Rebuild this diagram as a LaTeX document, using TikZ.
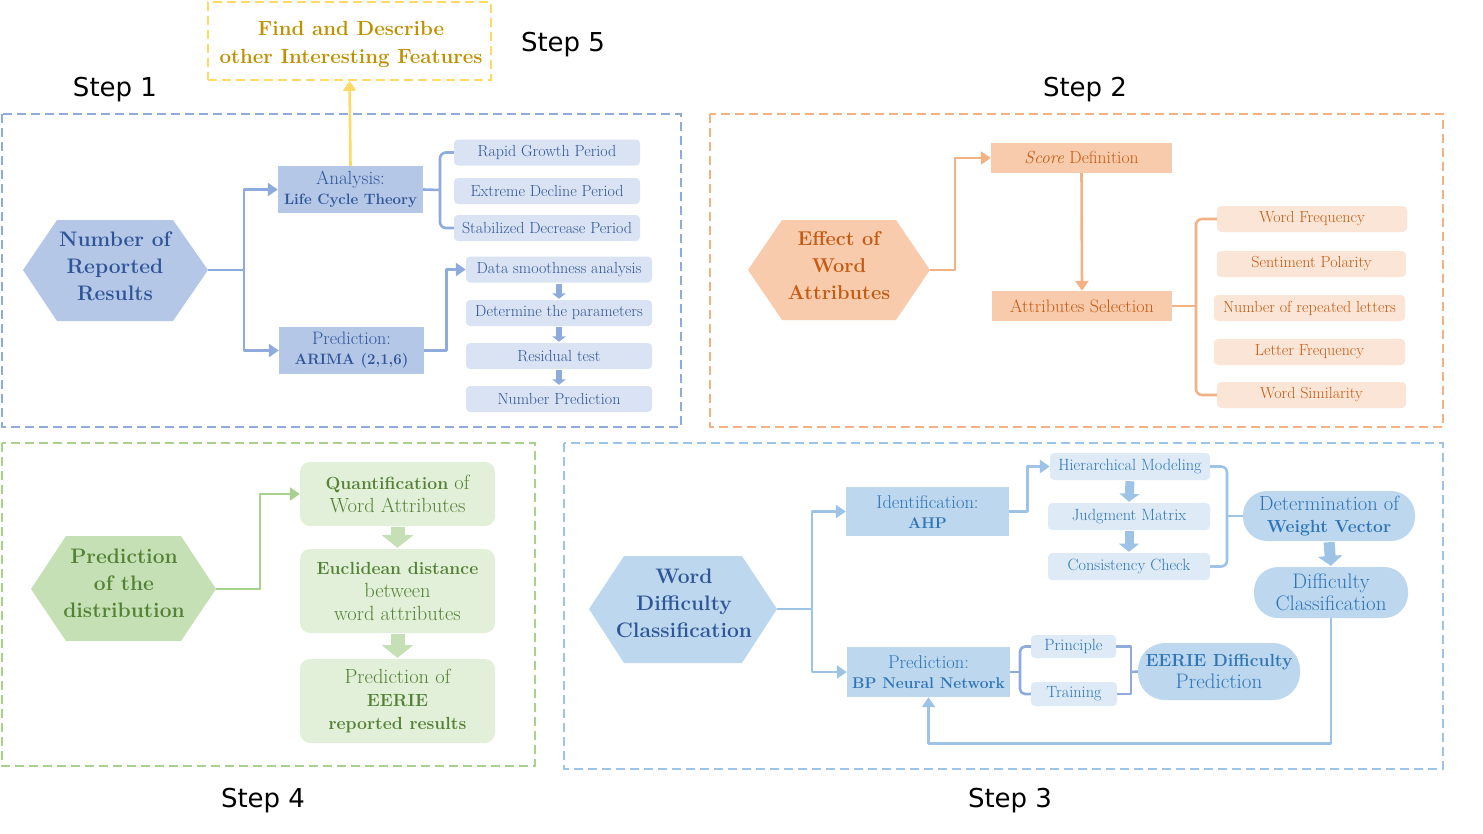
\documentclass[tikz,border=0pt]{standalone}
\usepackage{fontspec}
\newfontfamily\stepfont{DejaVu Sans}
\usetikzlibrary{arrows.meta,calc}
\definecolor{bAline}{HTML}{8FAADC}
\definecolor{bAfill}{HTML}{B4C7E7}
\definecolor{bAlight}{HTML}{DAE3F3}
\definecolor{bAtext}{HTML}{2F5597}
\definecolor{oline}{HTML}{F4B183}
\definecolor{ofill}{HTML}{F8CBAD}
\definecolor{olight}{HTML}{FBE5D6}
\definecolor{otext}{HTML}{C55A11}
\definecolor{gline}{HTML}{A9D18E}
\definecolor{gfill}{HTML}{C5E0B4}
\definecolor{glight}{HTML}{E2F0D9}
\definecolor{gtext}{HTML}{538135}
\definecolor{cline}{HTML}{9DC3E6}
\definecolor{cfill}{HTML}{BDD7EE}
\definecolor{clight}{HTML}{DEEBF7}
\definecolor{ctext}{HTML}{2E75B6}
\definecolor{yline}{HTML}{FFD966}
\definecolor{ytext}{HTML}{BF9000}
\newcommand{\fs}[2]{\fontsize{#1}{#2}\selectfont}
\begin{document}
\begin{tikzpicture}[x=1pt,y=-1pt,
  frame/.style={line width=1.6pt, dash pattern=on 9pt off 5pt},
  box/.style={inner sep=0pt, align=center},
  rbox/.style={box, rounded corners=4pt},
  steplabel/.style={font=\stepfont\fs{26}{30}, text=black},
  conn/.style={line width=2.6pt, line join=round},
  arr/.style={-{Triangle[width=13pt,length=10pt]}},
  fat/.style={line width=#1, -{Triangle[width=2.2*#1,length=0.9*#1]}, shorten <=1pt, shorten >=1pt},
]
\useasboundingbox (0,0) rectangle (1483,833);

%% ---------- Step labels
\node[steplabel] (st1) at (115,90) {Step 1};
\node[steplabel] (st2) at (1085,90) {Step 2};
\node[steplabel] (st3) at (1010,801) {Step 3};
\node[steplabel] (st4) at (263,801) {Step 4};
\node[steplabel] (st5) at (563,45) {Step 5};

%% ---------- Frames
\draw[frame, bAline] (2,114) rectangle (681,427);
\draw[frame, oline] (710,114) rectangle (1443,427);
\draw[frame, gline] (2,443) rectangle (535,766);
\draw[frame, cline] (564,443) rectangle (1443,769);

%% ---------- Step 5
\node[box, draw=yline, frame, minimum width=283pt, minimum height=78pt] (s5) at (349.5,41) {};
\node[box, text=ytext, font=\bfseries\fs{20.5}{28}] (s5t) at (351,44) {Find and Describe\\other Interesting Features};

%% ---------- Step 1
\fill[bAfill] (23,270) -- (57,220) -- (173,220) -- (208,270) -- (173,321) -- (57,321) -- cycle;
\node[box, text=bAtext, font=\bfseries\fs{21}{27}] (h1) at (115,266.5) {Number of\\Reported\\Results};
\coordinate (h1e) at (208,270);
\node[box, fill=bAfill, text=bAtext, minimum width=145pt, minimum height=47pt, font=\fs{15}{20}] (ana) at (350.5,189.5) {{\fs{19}{20}Analysis:}\\\textbf{Life Cycle Theory}};
\node[box, fill=bAfill, text=bAtext, minimum width=145pt, minimum height=47pt, font=\fs{15}{20}] (pr1) at (351.5,350.5) {{\fs{18}{20}Prediction:}\\\textbf{ARIMA (2,1,6)}};
\tikzset{sb1/.style={rbox, fill=bAlight, text=bAtext, minimum height=26pt, minimum width=186pt, font=\fs{16}{17}}}
\node[sb1] (rapid) at (547,152.5) {Rapid Growth Period};
\node[sb1] (ext) at (547,191) {Extreme Decline Period};
\node[sb1] (stab) at (547,228) {Stabilized Decrease Period};
\node[sb1] (data) at (559,269.5) {Data smoothness analysis};
\node[sb1] (det) at (559,313) {Determine the parameters};
\node[sb1] (res) at (559,356) {Residual test};
\node[sb1] (nump) at (559,399) {Number Prediction};

\coordinate (j1) at (244,270);
\draw[conn, bAline] (h1e) -- (j1);
\draw[conn, bAline, arr] (j1) |- (ana.west);
\draw[conn, bAline, arr] (j1) |- (pr1.west);
\draw[conn, bAline, arr] (pr1.east) -- ++(22,0) |- (data.west);
\coordinate (b1) at (440,190);
\draw[conn, bAline, rounded corners=6pt] (rapid.west) -| (b1) |- (stab.west);
\draw[conn, bAline] (ana.east) -- (b1);
\draw[fat=6pt, bAline] (data.south) -- (det.north);
\draw[fat=6pt, bAline] (det.south) -- (res.north);
\draw[fat=6pt, bAline] (res.south) -- (nump.north);
\draw[conn, yline, arr] (ana.north) -- (s5.south);

%% ---------- Step 2
\fill[ofill] (748,270) -- (782,220) -- (896,220) -- (930,270) -- (896,320) -- (782,320) -- cycle;
\node[box, text=otext, font=\bfseries\fs{20}{27}] (h2) at (839,266) {Effect of\\Word\\Attributes};
\coordinate (h2e) at (930,270);
\node[box, fill=ofill, text=otext, minimum width=181pt, minimum height=30pt, font=\fs{17.5}{20}] (score) at (1081.5,158) {\textit{Score} Definition};
\node[box, fill=ofill, text=otext, minimum width=180pt, minimum height=30pt, font=\fs{18}{20}] (attr) at (1082,306) {Attributes Selection};
\tikzset{sb2/.style={rbox, fill=olight, text=otext, minimum height=26pt, font=\fs{16}{17}}}
\node[sb2, minimum width=190pt] (wf) at (1312,219) {Word Frequency};
\node[sb2, minimum width=189pt] (sp) at (1311.5,264) {Sentiment Polarity};
\node[sb2, minimum width=191pt] (nr) at (1309.5,308) {Number of repeated letters};
\node[sb2, minimum width=191pt] (lf) at (1309.5,352) {Letter Frequency};
\node[sb2, minimum width=189pt] (ws) at (1311.5,395) {Word Similarity};
\draw[conn, oline, arr] (h2e) -- ++(25,0) |- (score.west);
\draw[conn, oline, arr] (score.south) -- (attr.north);
\coordinate (b2) at (1196,306);
\draw[conn, oline, rounded corners=6pt] (wf.west) -| (b2) |- (ws.west);
\draw[conn, oline] (attr.east) -- (b2);

%% ---------- Step 4
\fill[gfill] (31,589) -- (66,536) -- (181,536) -- (216,589) -- (181,641) -- (66,641) -- cycle;
\node[box, text=gtext, font=\bfseries\fs{21}{27}] (h4) at (124,583) {Prediction\\of the\\distribution};
\coordinate (h4e) at (216,589);
\tikzset{gb/.style={rbox, rounded corners=10pt, fill=glight, text=gtext, minimum width=195pt, font=\fs{20.5}{23}}}
\newcommand{\gB}[1]{{\fs{17.6}{23}\bfseries #1}}
\node[gb, minimum height=64pt] (q4) at (397.5,494) {\gB{Quantification} of\\Word Attributes};
\node[gb, minimum height=84pt] (e4) at (397.5,591) {\gB{Euclidean distance}\\between\\word attributes};
\node[gb, minimum height=84pt] (p4) at (397.5,701) {Prediction of\\\gB{EERIE}\\\gB{reported results}};
\draw[conn, gline, arr] (h4e) -- ++(44,0) |- (q4.west);
\draw[fat=14pt, gfill] (q4.south) -- (e4.north);
\draw[fat=14pt, gfill] (e4.south) -- (p4.north);

%% ---------- Step 3
\fill[cfill] (589,609) -- (624,556) -- (742,556) -- (777,609) -- (742,663) -- (624,663) -- cycle;
\node[box, text=bAtext, font=\bfseries\fs{21}{27}] (h3) at (684,603) {Word\\Difficulty\\Classification};
\coordinate (h3e) at (777,609);
\node[box, fill=cfill, text=ctext, minimum width=163pt, minimum height=49pt, font=\fs{15.5}{20}] (ident) at (927.5,511.5) {{\fs{18.5}{20}Identification:}\\\textbf{AHP}};
\node[box, fill=cfill, text=ctext, minimum width=163pt, minimum height=50pt, font=\fs{15.5}{20}] (bp) at (928.5,672) {{\fs{18.5}{20}Prediction:}\\\textbf{BP Neural Network}};
\tikzset{sb3/.style={rbox, fill=clight, text=ctext, minimum height=27pt, minimum width=162pt, font=\fs{16.3}{17}}}
\node[sb3, minimum width=160pt] (hier) at (1130,466.5) {Hierarchical Modeling};
\node[sb3] (judg) at (1129,516.5) {Judgment Matrix};
\node[sb3] (cons) at (1129,566.5) {Consistency Check};
\node[sb3, minimum width=85pt, minimum height=23pt] (prin) at (1073.5,646.5) {Principle};
\node[sb3, minimum width=86pt, minimum height=24pt] (train) at (1074,694) {Training};
\node[box, fill=cfill, text=ctext, rounded corners=24pt, minimum width=172pt, minimum height=50pt, font=\fs{17.5}{22}] (detw) at (1329,516) {{\fs{20.5}{22}Determination of}\\\textbf{Weight Vector}};
\node[box, fill=cfill, text=ctext, rounded corners=24pt, minimum width=154pt, minimum height=51pt, font=\fs{21}{22}] (diff) at (1331,592.5) {Difficulty\\Classification};
\node[box, fill=cfill, text=ctext, rounded corners=27pt, minimum width=162pt, minimum height=57pt, font=\fs{17.5}{22}] (eerie) at (1219,671.5) {\textbf{EERIE Difficulty}\\{\fs{21}{22}Prediction}};

\coordinate (j3) at (812,609);
\draw[conn, cline] (h3e) -- (j3);
\draw[conn, cline, arr] (j3) |- (ident.west);
\draw[conn, cline, arr] (j3) |- (bp.west);
\draw[conn, cline, arr] (ident.east) -- ++(18,0) |- (hier.west);
\draw[fat=9pt, cline] (hier.south) -- (judg.north);
\draw[fat=9pt, cline] (judg.south) -- (cons.north);
\coordinate (b3) at (1227,516);
\draw[conn, cline, rounded corners=6pt] (hier.east) -| (b3) |- (cons.east);
\draw[conn, cline] (b3) -- (detw.west);
\draw[fat=11pt, cline] (detw.south) -- (diff.north);
\draw[conn, cline, arr] (diff.south) -- ++(0,125) -| (bp.south);
\coordinate (b4) at (1020,672);
\draw[conn, bAline, rounded corners=5pt] (prin.west) -| (b4) |- (train.west);
\draw[conn, bAline] (bp.east) -- (b4);
\coordinate (b5) at (1131,672);
\draw[conn, bAline] (prin.east) -| (b5) |- (train.east);
\draw[conn, bAline] (b5) -- (eerie.west);
\end{tikzpicture}
\end{document}
